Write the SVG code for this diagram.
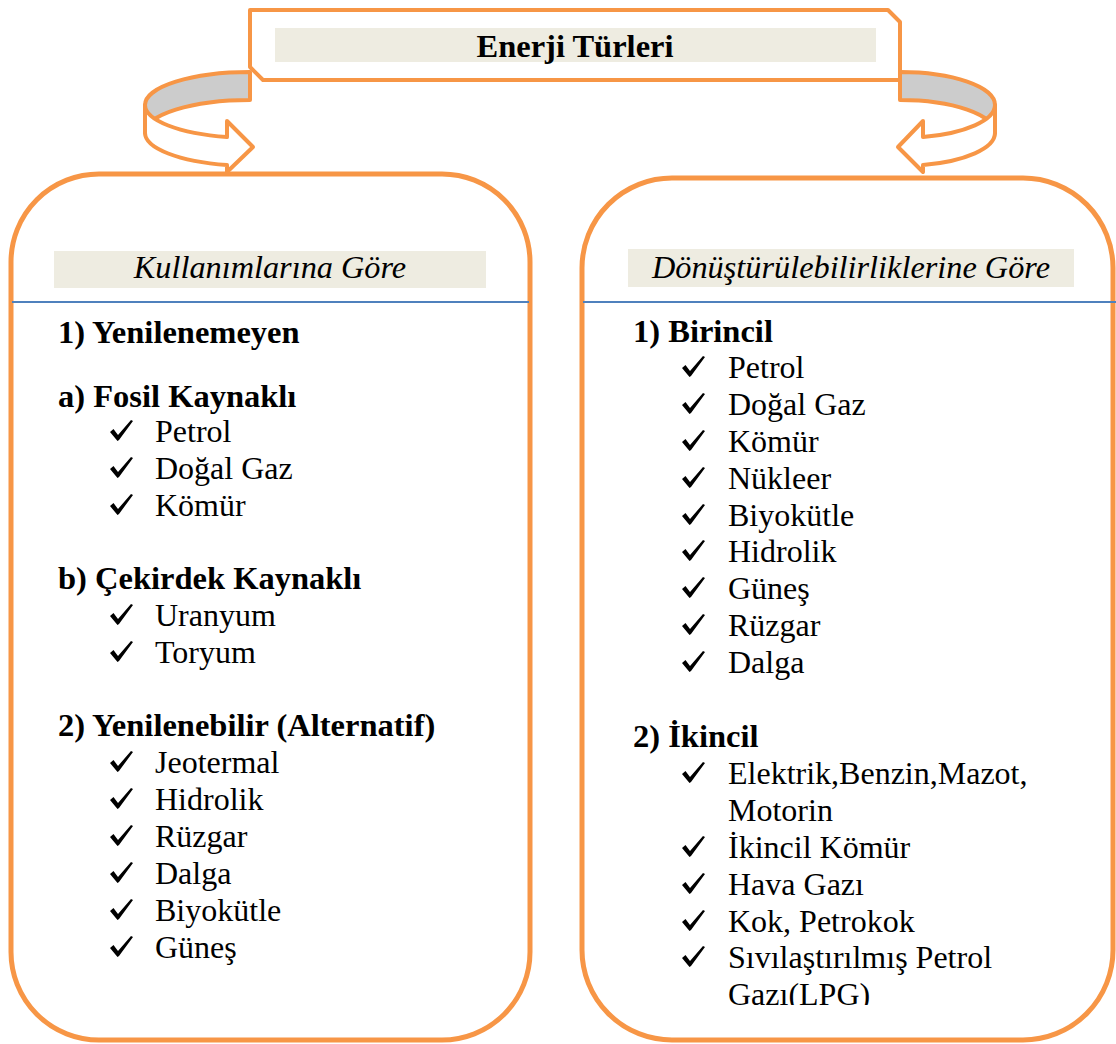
<svg xmlns="http://www.w3.org/2000/svg" xmlns:xlink="http://www.w3.org/1999/xlink" width="1116" height="1044" viewBox="0 0 1116 1044">
<style>
.frame{fill:#ffffff;stroke:#F79646;stroke-width:5}
.tbox{fill:#ffffff;stroke:#F79646;stroke-width:4;stroke-linejoin:round}
.lbl{fill:#EEECE1}
.blue{stroke:#4F81BD;stroke-width:2}
.band{fill:#CCCCCC;stroke:#F79646;stroke-width:4;stroke-linejoin:round}
.ribbon{fill:#ffffff;stroke:#F79646;stroke-width:4;stroke-linejoin:round}
.t{font-family:'Liberation Serif','Times New Roman',serif;font-size:32px;fill:#000000}
.b{font-weight:bold;font-size:32.5px}
.i{font-style:italic;font-size:32.3px}
</style>
<defs>
<clipPath id="clipR"><rect x="580" y="170" width="536" height="835"/></clipPath>
<path id="ck" d="M0,-9 L3.5,-12 L8,-6 L21,-21 L23,-20 L9,-1 L7.5,0 Z" fill="#000000"/>
</defs>

<g id="node-title">
<path class="tbox" d="M250,10 L888,10 L900,22 L900,80 L263,80 L250,67 Z"/>
<rect class="lbl" x="275" y="28" width="601" height="34"/>
<text class="t b" x="575" y="57" text-anchor="middle">Enerji Türleri</text>
</g>

<g id="connectors">
<g id="arrow-left">
<path class="band" d="M250,72 A105,33 0 0 0 145,105 L145,133 A105,33 0 0 1 250,100 Z"/>
<path class="ribbon" d="M145,105 A105,33 0 0 0 227,137 L227,121 L253,147 L227,172 L227,165 A105,33 0 0 1 145,133 Z"/>
</g>
<g id="arrow-right">
<path class="band" d="M900,72 A95,33 0 0 1 995,105 L995,133 A95,33 0 0 0 900,100 Z"/>
<path class="ribbon" d="M995,105 A95,33 0 0 1 923,137 L923,121 L898,147 L923,172 L923,165 A95,33 0 0 0 995,133 Z"/>
</g>
</g>

<g id="node-left">
<rect class="frame" x="11" y="174" width="519" height="866" rx="88" ry="88"/>
<rect class="lbl" x="54" y="251" width="432" height="37"/>
<text class="t i" x="270" y="278" text-anchor="middle">Kullanımlarına Göre</text>
<line class="blue" x1="12" y1="302" x2="529" y2="302"/>
<text class="t b" x="58" y="343">1) Yenilenemeyen</text>
<text class="t b" x="58" y="407">a) Fosil Kaynaklı</text>
<use xlink:href="#ck" x="110" y="441"/><text class="t" x="155" y="442">Petrol</text>
<use xlink:href="#ck" x="110" y="478"/><text class="t" x="155" y="479">Doğal Gaz</text>
<use xlink:href="#ck" x="110" y="515"/><text class="t" x="155" y="516">Kömür</text>
<text class="t b" x="58" y="589">b) Çekirdek Kaynaklı</text>
<use xlink:href="#ck" x="110" y="625"/><text class="t" x="155" y="626">Uranyum</text>
<use xlink:href="#ck" x="110" y="662"/><text class="t" x="155" y="663">Toryum</text>
<text class="t b" x="58" y="736">2) Yenilenebilir (Alternatif)</text>
<use xlink:href="#ck" x="110" y="772"/><text class="t" x="155" y="773">Jeotermal</text>
<use xlink:href="#ck" x="110" y="809"/><text class="t" x="155" y="810">Hidrolik</text>
<use xlink:href="#ck" x="110" y="846"/><text class="t" x="155" y="847">Rüzgar</text>
<use xlink:href="#ck" x="110" y="883"/><text class="t" x="155" y="884">Dalga</text>
<use xlink:href="#ck" x="110" y="920"/><text class="t" x="155" y="921">Biyokütle</text>
<use xlink:href="#ck" x="110" y="957"/><text class="t" x="155" y="958">Güneş</text>
</g>

<g id="node-right">
<rect class="frame" x="582" y="178" width="531" height="862" rx="90" ry="90"/>
<rect class="lbl" x="628" y="249" width="446" height="38"/>
<text class="t i" x="851" y="278" text-anchor="middle">Dönüştürülebilirliklerine Göre</text>
<line class="blue" x1="583" y1="302" x2="1116" y2="302"/>
<text class="t b" x="633" y="342">1) Birincil</text>
<use xlink:href="#ck" x="682" y="377"/><text class="t" x="728" y="378">Petrol</text>
<use xlink:href="#ck" x="682" y="414"/><text class="t" x="728" y="415">Doğal Gaz</text>
<use xlink:href="#ck" x="682" y="451"/><text class="t" x="728" y="452">Kömür</text>
<use xlink:href="#ck" x="682" y="488"/><text class="t" x="728" y="489">Nükleer</text>
<use xlink:href="#ck" x="682" y="525"/><text class="t" x="728" y="526">Biyokütle</text>
<use xlink:href="#ck" x="682" y="561"/><text class="t" x="728" y="562">Hidrolik</text>
<use xlink:href="#ck" x="682" y="598"/><text class="t" x="728" y="599">Güneş</text>
<use xlink:href="#ck" x="682" y="635"/><text class="t" x="728" y="636">Rüzgar</text>
<use xlink:href="#ck" x="682" y="672"/><text class="t" x="728" y="673">Dalga</text>
<text class="t b" x="633" y="747">2) İkincil</text>
<use xlink:href="#ck" x="682" y="783"/><text class="t" x="728" y="784">Elektrik,Benzin,Mazot,</text>
<text class="t" x="728" y="821">Motorin</text>
<use xlink:href="#ck" x="682" y="857"/><text class="t" x="728" y="858">İkincil Kömür</text>
<use xlink:href="#ck" x="682" y="894"/><text class="t" x="728" y="895">Hava Gazı</text>
<use xlink:href="#ck" x="682" y="931"/><text class="t" x="728" y="932">Kok, Petrokok</text>
<use xlink:href="#ck" x="682" y="967"/><text class="t" x="728" y="968">Sıvılaştırılmış Petrol</text>
<text class="t" x="728" y="1005" clip-path="url(#clipR)">Gazı(LPG)</text>
</g>
</svg>
